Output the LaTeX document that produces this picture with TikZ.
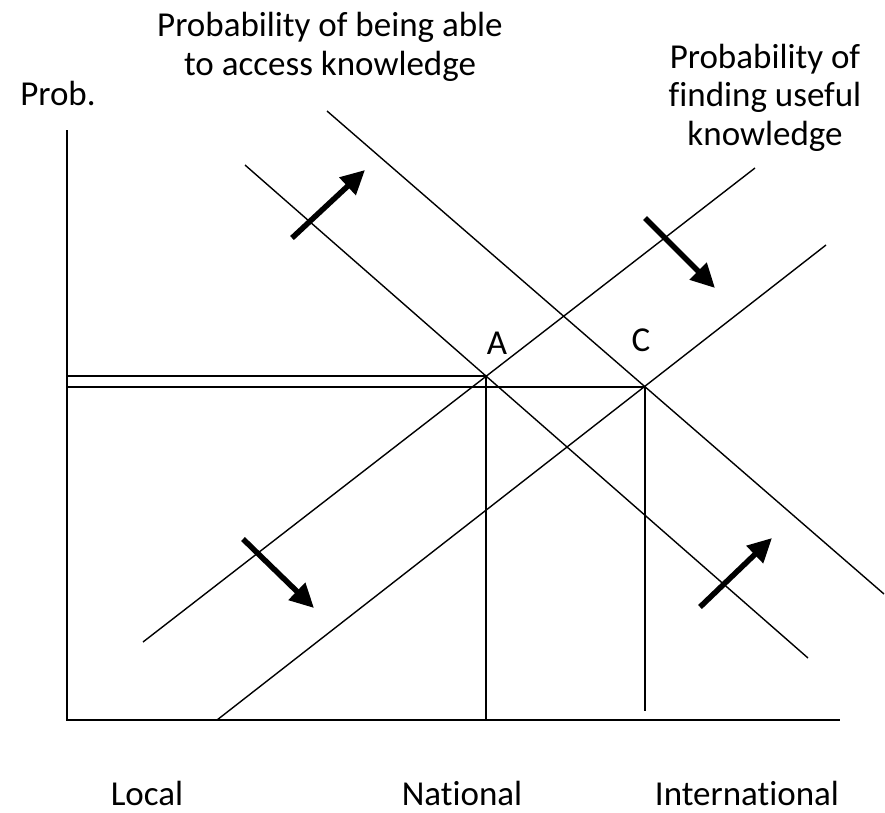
\documentclass[tikz,border=0pt]{standalone}
\usepackage{fontspec}
\setmainfont{Carlito}[Ligatures=NoCommon]
\usetikzlibrary{arrows.meta}

\begin{document}
\begin{tikzpicture}[x=1pt, y=-1pt]
  % Styles
  \tikzstyle{lab}=[inner sep=0pt, font=\fontsize{35}{38.5}\selectfont, align=center]
  \tikzstyle{axis}=[line width=2pt]
  \tikzstyle{guide}=[line width=1.4pt]
  \tikzstyle{push}=[-{Triangle[length=24pt, width=23pt]}, line width=5.5pt]

  \useasboundingbox (0,0) rectangle (885,812);

  % Axes
  \coordinate (orig) at (67,720);
  \coordinate (ytop) at (67,130);
  \coordinate (xend) at (840,720);
  \draw[axis] (ytop) -- (orig) -- (xend);

  % Crossing points
  \coordinate (A) at (486,376);
  \coordinate (C) at (645,387);

  % Access curves (falling)
  \coordinate (acc1s) at (245,165);
  \coordinate (acc1e) at (808,658);
  \coordinate (acc2s) at (327,111);
  \coordinate (acc2e) at (884,594);
  \draw[guide] (acc1s) -- (acc1e);
  \draw[guide] (acc2s) -- (acc2e);

  % Finding curves (rising)
  \coordinate (fnd1s) at (143,642);
  \coordinate (fnd1e) at (755,168);
  \coordinate (fnd2s) at (217,720);
  \coordinate (fnd2e) at (826,245);
  \draw[guide] (fnd1s) -- (fnd1e);
  \draw[guide] (fnd2s) -- (fnd2e);

  % Guide lines to the axes
  \coordinate (yA) at (67,376);
  \coordinate (yC) at (67,387);
  \coordinate (xA) at (486,720);
  \coordinate (xC) at (645,711);
  \draw[guide] (yA) -- (A) -- (xA);
  \draw[guide] (yC) -- (C) -- (xC);

  % Shift arrows
  \coordinate (s1a) at (292,238); \coordinate (s1b) at (365,170);
  \coordinate (s2a) at (645,218); \coordinate (s2b) at (715,288);
  \coordinate (s3a) at (243,539); \coordinate (s3b) at (314,608);
  \coordinate (s4a) at (700,607); \coordinate (s4b) at (772,538);
  \draw[push] (s1a) -- (s1b);
  \draw[push] (s2a) -- (s2b);
  \draw[push] (s3a) -- (s3b);
  \draw[push] (s4a) -- (s4b);

  % Labels (base = last line)
  \node[lab, anchor=base] (accLab) at (330,75) {Probability of being able\\to access knowledge};
  \node[lab, anchor=base] (fndLab) at (765,145) {Probability of\\finding useful\\knowledge};
  \node[lab, anchor=base] (probLab) at (58,105) {Prob.};
  \node[lab, anchor=base] (aLab) at (497,354) {A};
  \node[lab, anchor=base] (cLab) at (641,351) {C};

  \node[lab, anchor=base] (localLab) at (147,805) {Local};
  \node[lab, anchor=base] (natLab) at (462,805) {National};
  \node[lab, anchor=base] (intLab) at (747,805) {International};
\end{tikzpicture}
\end{document}
